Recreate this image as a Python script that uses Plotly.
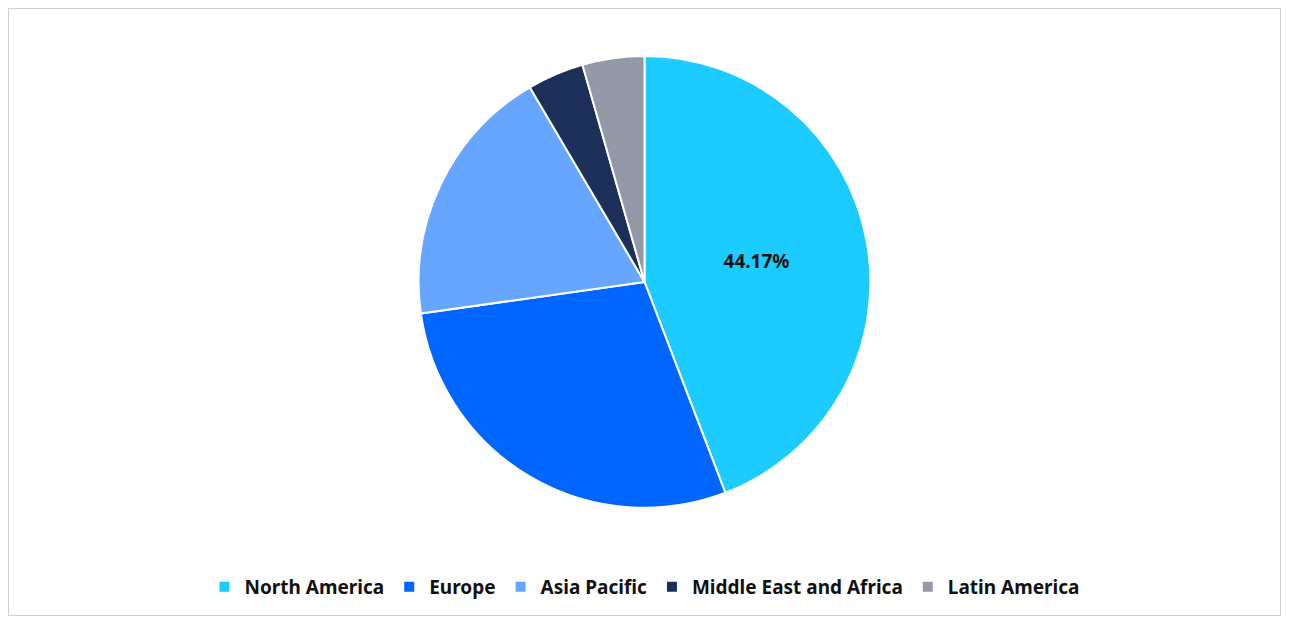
import plotly.graph_objects as go

regions = ["North America", "Europe", "Asia Pacific", "Middle East and Africa", "Latin America"]
shares = [44.17, 28.6, 18.75, 4.05, 4.43]
colors = ["#1ccbff", "#0066ff", "#66a6ff", "#1b2f58", "#9399a6"]
labels_shown = ["<b>44.17%</b>", "", "", "", ""]

# page body has an 8px margin, so the figure is sized to fit inside the window
fig = go.Figure(go.Pie(
    labels=regions, values=shares, sort=False, direction="clockwise", rotation=0,
    marker=dict(colors=colors, line=dict(color="white", width=2)),
    text=labels_shown, textinfo="text", textposition="inside",
    insidetextorientation="horizontal",
    textfont=dict(family="Noto Sans", size=19, color="#111111"),
    domain=dict(x=[0, 1], y=[0.178, 0.921]), hoverinfo="label+percent",
))
fig.update_layout(
    width=1273, height=608, margin=dict(l=0, r=0, t=0, b=0),
    paper_bgcolor="white", font=dict(family="Noto Sans"),
    legend=dict(orientation="h", x=0.5, xanchor="center", y=0.048, yanchor="middle",
                font=dict(size=19, color="#111111", weight="bold"), itemwidth=30),
    shapes=[dict(type="rect", xref="paper", yref="paper", x0=0, y0=0, x1=1, y1=1,
                 line=dict(color="#d0d0d0", width=2))],
)
fig.write_html("out.html")
